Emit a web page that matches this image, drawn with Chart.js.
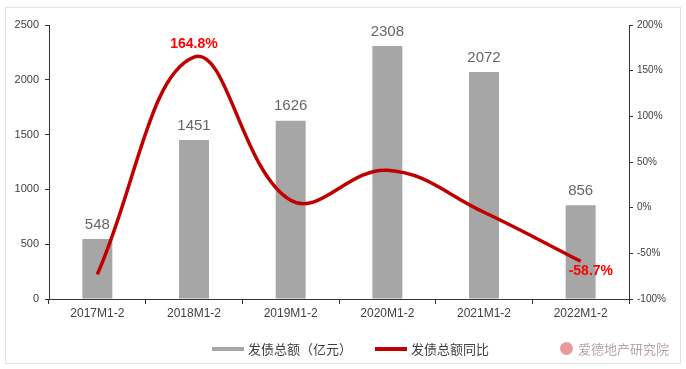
<!DOCTYPE html>
<html>
<head>
<meta charset="utf-8">
<script src="https://cdn.jsdelivr.net/npm/chart.js@4"></script>
<style>
  body { margin: 0; background: #fff; }
  #wrap { position: relative; width: 686px; height: 369px; }
  #frame { position: absolute; left: 5px; top: 7px; width: 674px; height: 355px; border: 1px solid #e3e3e3; }
  canvas { position: absolute; left: 0; top: 0; }
  .leg { position: absolute; top: 339px; font: 13px "Noto Sans CJK SC", sans-serif; color: #404040; display: flex; align-items: center; }
  .leg i { display: inline-block; width: 32px; height: 4px; margin-right: 4px; }
  #mark { position: absolute; left: 560px; top: 339px; font: 13px "Noto Sans CJK SC", sans-serif; color: #b9a3a8; display: flex; align-items: center; }
  #mark b { display: inline-block; width: 13px; height: 13px; border-radius: 50%; background: #e79a9a; margin-right: 5px; }
</style>
</head>
<body>
<div id="wrap">
  <div id="frame"></div>
  <canvas id="grafico" width="686" height="369"></canvas>
  <div class="leg" style="left:212px"><i style="background:#a6a6a6"></i>发债总额（亿元）</div>
  <div class="leg" style="left:375px"><i style="background:#c00000"></i>发债总额同比</div>
  <div id="mark"><b></b>爱德地产研究院</div>
</div>
<script>
const categorias = ['2017M1-2', '2018M1-2', '2019M1-2', '2020M1-2', '2021M1-2', '2022M1-2'];
const valores = [548, 1451, 1626, 2308, 2072, 856];
const crescimento = [-73, 164.8, 8, 41, -5, -58.7];
const rotulosCrescimento = {1: '164.8%', 5: '-58.7%'};

const rotulos = {
  id: 'rotulos',
  afterDatasetsDraw(chart) {
    const ctx = chart.ctx;
    ctx.save();
    ctx.textAlign = 'center';
    ctx.textBaseline = 'bottom';
    ctx.font = '15px "Liberation Sans", sans-serif';
    ctx.fillStyle = '#666';
    chart.getDatasetMeta(0).data.forEach((bar, i) => {
      ctx.fillText(valores[i], bar.x, bar.y - 7);
    });
    ctx.font = 'bold 14px "Liberation Sans", sans-serif';
    ctx.fillStyle = '#ff0000';
    const pts = chart.getDatasetMeta(1).data;
    Object.keys(rotulosCrescimento).forEach(k => {
      const p = pts[k];
      if (k == 5) {
        ctx.textAlign = 'left';
        ctx.textBaseline = 'middle';
        ctx.fillText(rotulosCrescimento[k], p.x - 12, p.y + 10);
      } else {
        ctx.textAlign = 'center';
        ctx.textBaseline = 'bottom';
        ctx.fillText(rotulosCrescimento[k], p.x, p.y - 6);
      }
    });
    ctx.restore();
  }
};

const eixo = { display: true, drawOnChartArea: false, drawTicks: true, tickLength: 4, color: '#333', lineWidth: 1 };

new Chart(document.getElementById('grafico').getContext('2d'), {
  type: 'bar',
  data: {
    labels: categorias,
    datasets: [{
      label: '发债总额（亿元）',
      data: valores,
      backgroundColor: '#a6a6a6',
      yAxisID: 'y',
      barPercentage: 0.31,
      categoryPercentage: 1,
      order: 2
    }, {
      type: 'line',
      label: '发债总额同比',
      data: crescimento,
      borderColor: '#c00000',
      borderWidth: 3.5,
      pointRadius: 0,
      tension: 0.4,
      fill: false,
      yAxisID: 'y1',
      order: 1
    }]
  },
  options: {
    responsive: false,
    animation: false,
    layout: { padding: { top: 25, bottom: 40, left: 0, right: 0 } },
    plugins: { legend: { display: false }, tooltip: { enabled: false } },
    scales: {
      x: {
        grid: { ...eixo, offset: true, tickLength: 5 },
        border: { display: true, color: '#333' },
        ticks: { color: '#404040', font: { family: 'Liberation Sans', size: 12 }, padding: 2 },
        afterFit: s => { s.height = 30; }
      },
      y: {
        position: 'left',
        min: 0, max: 2500,
        grid: eixo,
        border: { display: true, color: '#333' },
        ticks: { stepSize: 500, color: '#404040', font: { family: 'Liberation Sans', size: 11 }, padding: 6, callback: v => String(v) },
        afterFit: s => { s.width = 49; }
      },
      y1: {
        position: 'right',
        min: -100, max: 200,
        grid: eixo,
        border: { display: true, color: '#333' },
        ticks: { stepSize: 50, color: '#404040', font: { family: 'Liberation Sans', size: 10 }, padding: 4, callback: v => v + '%' },
        afterFit: s => { s.width = 57; }
      }
    }
  },
  plugins: [rotulos]
});
</script>
</body>
</html>
